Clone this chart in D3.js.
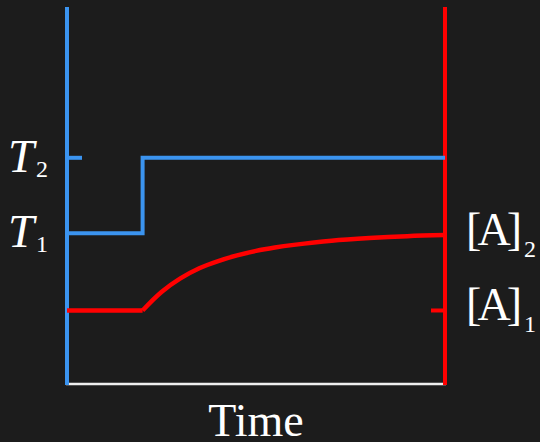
<!DOCTYPE html>
<html><head><meta charset="utf-8">
<script src="https://cdn.jsdelivr.net/npm/d3@7"></script>
<style>html,body{margin:0;padding:0;background:#1c1c1c;}svg{display:block;}</style>
</head><body>
<svg id="chart" width="540" height="442"></svg>
<script>
// Temperature (blue) step profile
const tempTime = [0, 2, 2, 10];
const tempValue = [40, 40, 60, 60];
// Concentration [A] (red) relaxation profile
const concTime = [0, 2, 2.5, 3, 3.5, 4, 4.5, 5, 5.5, 6, 7, 8, 9, 10];
const concValue = [19.5, 19.5, 24.4, 28, 30.7, 32.6, 34.1, 35.3, 36.2, 36.9, 38.0, 38.7, 39.2, 39.5];
// Level labels
const leftLabels = [{base: "T", sub: "2", value: 60}, {base: "T", sub: "1", value: 40}];
const rightLabels = [{base: "[A]", sub: "2", value: 39.5}, {base: "[A]", sub: "1", value: 19.5}];
const xLabel = "Time";

const svg = d3.select("#chart");
const W = 540, H = 442;
svg.append("rect").attr("width", W).attr("height", H).attr("fill", "#1c1c1c");

const x = d3.scaleLinear().domain([0, 10]).range([67, 445]);
const y = d3.scaleLinear().domain([0, 100]).range([384, 7]);

const blue = "#3b94f0", red = "#ff0000", white = "#eeeeee";
const font = "'Liberation Serif', 'DejaVu Serif', serif";

// Bottom axis (white)
svg.append("line").attr("x1", x(0) - 1).attr("x2", x(10) + 1)
  .attr("y1", y(0)).attr("y2", y(0)).attr("stroke", white).attr("stroke-width", 2.5);

// Left axis (blue)
svg.append("line").attr("x1", x(0)).attr("x2", x(0))
  .attr("y1", y(0) + 1).attr("y2", y(100)).attr("stroke", blue).attr("stroke-width", 4);
// Right axis (red)
svg.append("line").attr("x1", x(10)).attr("x2", x(10))
  .attr("y1", y(0) + 1).attr("y2", y(100)).attr("stroke", red).attr("stroke-width", 4);

// Ticks
svg.append("line").attr("x1", x(0)).attr("x2", x(0) + 15)
  .attr("y1", y(60)).attr("y2", y(60)).attr("stroke", blue).attr("stroke-width", 4);
svg.append("line").attr("x1", x(10) - 14).attr("x2", x(10))
  .attr("y1", y(19.5)).attr("y2", y(19.5)).attr("stroke", red).attr("stroke-width", 4);

// Temperature line
const tempData = tempTime.map((t, i) => [t, tempValue[i]]);
svg.append("path").datum(tempData)
  .attr("d", d3.line().x(d => x(d[0])).y(d => y(d[1])))
  .attr("fill", "none").attr("stroke", blue).attr("stroke-width", 4);

// Concentration line
const concData = concTime.map((t, i) => [t, concValue[i]]);
svg.append("path").datum(concData.slice(0, 2))
  .attr("d", d3.line().x(d => x(d[0])).y(d => y(d[1])))
  .attr("fill", "none").attr("stroke", red).attr("stroke-width", 4.5);
svg.append("path").datum(concData.slice(1))
  .attr("d", d3.line().x(d => x(d[0])).y(d => y(d[1])).curve(d3.curveCatmullRom.alpha(0.5)))
  .attr("fill", "none").attr("stroke", red).attr("stroke-width", 4.5);

// Left labels
leftLabels.forEach(l => {
  svg.append("text").attr("font-family", font).attr("fill", "#ffffff")
    .attr("font-style", "italic").attr("font-size", 47)
    .attr("x", 8).attr("y", y(l.value) + 14).text(l.base);
  svg.append("text").attr("font-family", font).attr("fill", "#ffffff")
    .attr("font-size", 24).attr("x", 36).attr("y", y(l.value) + 19).text(l.sub);
});

// Right labels
rightLabels.forEach(l => {
  svg.append("text").attr("font-family", font).attr("fill", "#ffffff")
    .attr("font-size", 46).attr("x", 466).attr("y", y(l.value) + 10)
    .attr("textLength", 56).attr("lengthAdjust", "spacing").text(l.base);
  svg.append("text").attr("font-family", font).attr("fill", "#ffffff")
    .attr("font-size", 24).attr("x", 524).attr("y", y(l.value) + 22).text(l.sub);
});

// X label
svg.append("text").attr("font-family", font).attr("fill", "#ffffff")
  .attr("font-size", 46).attr("text-anchor", "middle")
  .attr("x", 256).attr("y", 436).text(xLabel);
</script>
</body></html>
